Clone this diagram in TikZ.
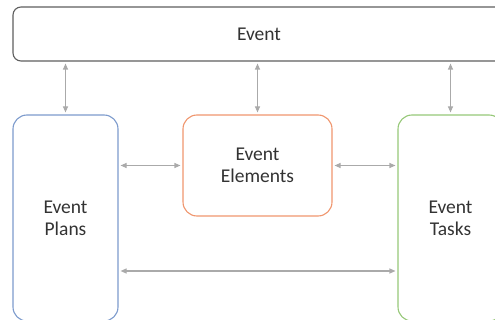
\documentclass[tikz,border=0pt]{standalone}
\usepackage{fontspec}
\setmainfont{Carlito}
\usetikzlibrary{arrows.meta}
\definecolor{framegray}{RGB}{95,95,95}
\definecolor{linkgray}{RGB}{170,170,170}
\definecolor{planblue}{RGB}{125,155,205}
\definecolor{elemorange}{RGB}{240,150,110}
\definecolor{taskgreen}{RGB}{150,200,120}
\tikzset{
  box/.style={draw, line width=1.1pt, rounded corners=14pt, fill=white,
    align=center, font=\fontsize{19.5}{22}\selectfont, text=black!80, inner sep=0pt},
  link/.style={draw=linkgray, line width=1.1pt,
    {Triangle[length=6pt,width=5pt]}-{Triangle[length=6pt,width=5pt]},
    shorten <=2pt, shorten >=2pt}
}
\begin{document}
\begin{tikzpicture}[x=1pt,y=-1pt]
  \useasboundingbox (0,0) rectangle (495,320);
  \clip (0,0) rectangle (495,320);
  % top bar
  \node[box, draw=framegray, rounded corners=8pt, minimum width=492pt, minimum height=54pt]
    (event) at (259,34) {Event};
  % three parts
  \node[box, draw=planblue, minimum width=105pt, minimum height=206pt]
    (plans) at (65.5,218) {Event\\Plans};
  \node[box, draw=elemorange, minimum width=149pt, minimum height=101pt]
    (elements) at (257.5,165.5) {Event\\Elements};
  \node[box, draw=taskgreen, minimum width=105pt, minimum height=206pt]
    (tasks) at (450.5,218) {Event\\Tasks};
  \coordinate (bottomlink) at (0,271);
  % links to the top bar
  \draw[link] (event.south -| plans) -- (plans.north);
  \draw[link] (event.south -| elements) -- (elements.north);
  \draw[link] (event.south -| tasks) -- (tasks.north);
  % links between the parts
  \draw[link] (plans.east |- elements.west) -- (elements.west);
  \draw[link] (elements.east) -- (tasks.west |- elements.east);
  \draw[link] (plans.east |- bottomlink) -- (tasks.west |- bottomlink);
\end{tikzpicture}
\end{document}
